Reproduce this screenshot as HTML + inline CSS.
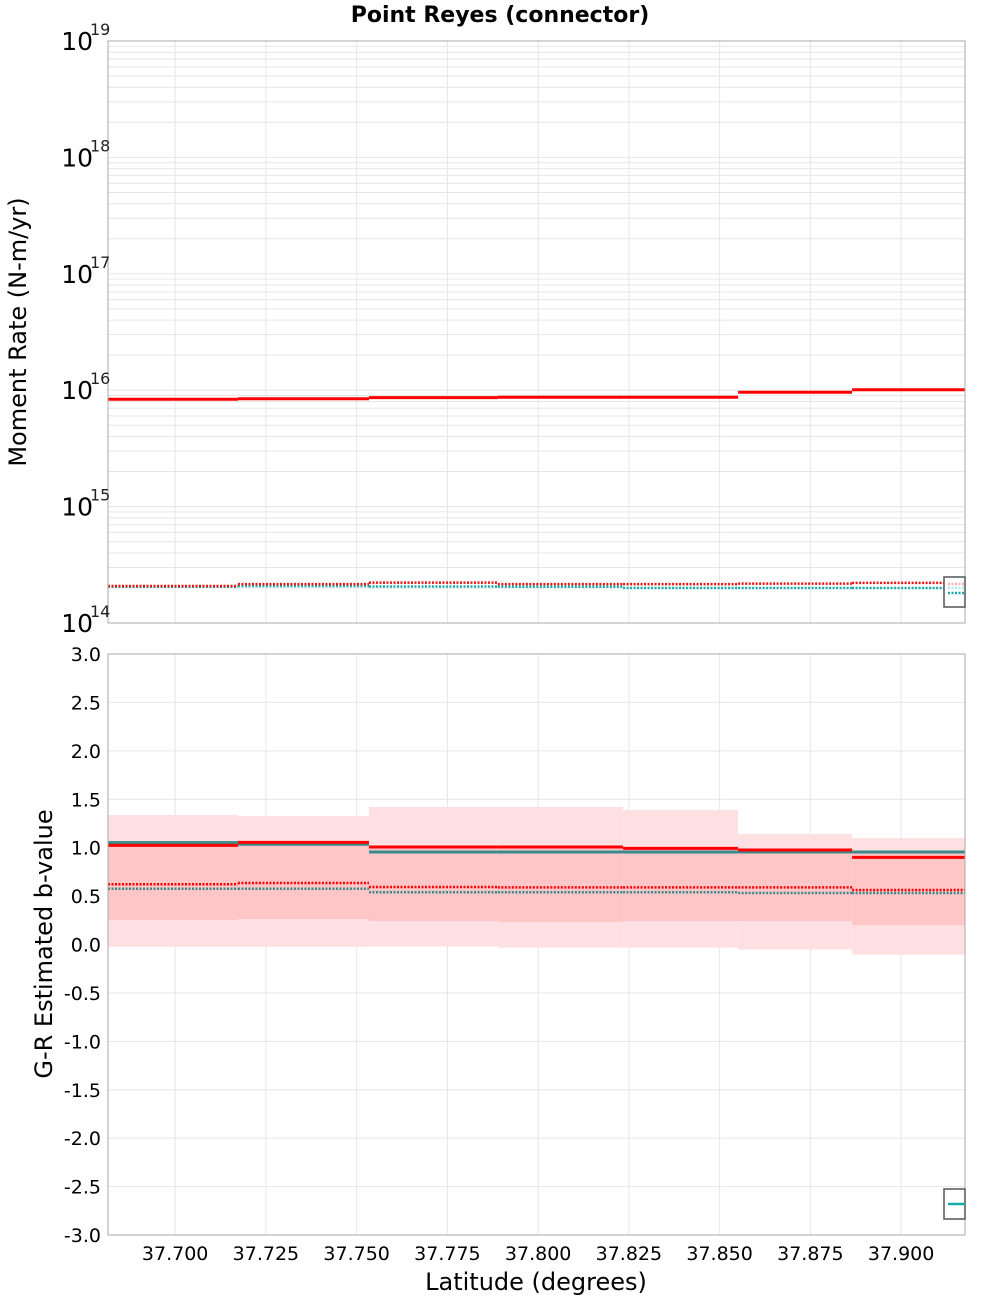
<!DOCTYPE html>
<html><head><meta charset="utf-8"><style>
body{margin:0;background:#fff;}
svg{display:block;font-family:"DejaVu Sans","Liberation Sans",sans-serif;}
</style></head><body>
<svg id="chart" width="1000" height="1300" xmlns="http://www.w3.org/2000/svg"></svg>
<script>
const binEdges=[37.6815,37.7173,37.7534,37.7889,37.8234,37.8551,37.8865,37.9176];
const momentSolid=[8.36e15,8.45e15,8.63e15,8.69e15,8.69e15,9.6e15,1.01e16];
const momentRedDot=[2.08e14,2.16e14,2.22e14,2.16e14,2.16e14,2.18e14,2.21e14];
const momentCyanDot=[2.05e14,2.08e14,2.06e14,2.05e14,2.0e14,2.0e14,2.0e14];
const bOuterTop=[1.337,1.327,1.42,1.42,1.389,1.141,1.10];
const bOuterBot=[-0.023,-0.023,-0.02,-0.033,-0.033,-0.053,-0.105];
const bInnerTop=[1.05,1.06,1.01,1.01,1.0,0.98,0.97];
const bInnerBot=[0.253,0.263,0.243,0.232,0.243,0.243,0.20];
const bRedSolid=[1.024,1.055,1.007,1.007,0.993,0.976,0.90];
const bTealSolid=[1.052,1.035,0.955,0.955,0.955,0.955,0.955];
const bRedDot=[0.622,0.635,0.594,0.59,0.59,0.59,0.563];
const bTealDot=[0.576,0.576,0.539,0.539,0.539,0.532,0.532];
const xTicks=[37.700,37.725,37.750,37.775,37.800,37.825,37.850,37.875,37.900];
const yTicksB=[3.0,2.5,2.0,1.5,1.0,0.5,0.0,-0.5,-1.0,-1.5,-2.0,-2.5,-3.0];
const decades=[14,15,16,17,18,19];

const NS='http://www.w3.org/2000/svg';
const svg=document.getElementById('chart');
const L=108,R=965,T1=41,B1=623,T2=654,B2=1235;
const xMin=37.6815,xMax=37.9176;
const X=v=>L+(v-xMin)/(xMax-xMin)*(R-L);
const Y1=v=>B1-(Math.log10(v)-14)/5*(B1-T1);
const Y2=v=>T2+(3-v)/6*(B2-T2);
function el(tag,attrs,parent){const e=document.createElementNS(NS,tag);for(const k in attrs)e.setAttribute(k,attrs[k]);(parent||svg).appendChild(e);return e;}
function txt(s,attrs){const e=el('text',attrs);e.textContent=s;return e;}

for(const [t,b] of [[T1,B1],[T2,B2]]){
  const r=el('rect',{x:L,y:t,width:R-L,height:b-t,fill:'#fff'});
  
  
}
const g=el('g',{stroke:'#e6e6e6','stroke-width':1});


for(let d=14;d<19;d++)for(let m=1;m<10;m++){const y=Y1(m*Math.pow(10,d));el('line',{x1:L,x2:R,y1:y,y2:y},g);}
xTicks.forEach(v=>{el('line',{x1:X(v),x2:X(v),y1:T1,y2:B1},g);el('line',{x1:X(v),x2:X(v),y1:T2,y2:B2},g);});
yTicksB.forEach(v=>el('line',{x1:L,x2:R,y1:Y2(v),y2:Y2(v)},g));

function steps(arr,Y,attrs,name){
  for(let i=0;i<arr.length;i++){
    const l=el('line',Object.assign({x1:X(binEdges[i]),x2:X(binEdges[i+1]),y1:Y(arr[i]),y2:Y(arr[i])},attrs));
    
    
  }
}
function bands(top,bot,fill,name){
  for(let i=0;i<top.length;i++){
    const r=el('rect',{x:X(binEdges[i]),width:X(binEdges[i+1])-X(binEdges[i]),y:Y2(top[i]),height:Y2(bot[i])-Y2(top[i]),fill:fill});
    
    
  }
}
steps(momentCyanDot,Y1,{stroke:'#1aabab','stroke-width':2.5,'stroke-dasharray':'2 1.5'},'moment-cyan-dotted');
steps(momentRedDot,Y1,{stroke:'#ee1111','stroke-width':2.5,'stroke-dasharray':'2 1.5'},'moment-red-dotted');
steps(momentSolid,Y1,{stroke:'#ff0000','stroke-width':3},'moment-solid');
bands(bOuterTop,bOuterBot,'#ffe0e2','b-outer-band');
bands(bInnerTop,bInnerBot,'#ffc6c8','b-inner-band');
steps(bTealDot,Y2,{stroke:'#3a8a8a','stroke-width':2.5,'stroke-dasharray':'2 1.5'},'b-teal-dotted');
steps(bRedDot,Y2,{stroke:'#ff0000','stroke-width':2.5,'stroke-dasharray':'2 1.5'},'b-red-dotted');
steps(bTealSolid,Y2,{stroke:'#3a8a8a','stroke-width':3},'b-teal-solid');
steps(bRedSolid,Y2,{stroke:'#ff0000','stroke-width':3},'b-red-solid');

for(const [t,b] of [[T1,B1],[T2,B2]]){
  const r=el('rect',{x:L,y:t,width:R-L,height:b-t,fill:'none',stroke:'#aaa','stroke-width':1});
  
  
}
const lg1=el('g',{});


el('rect',{x:944,y:577,width:21,height:30,fill:'#fff',stroke:'#555','stroke-width':1.5},lg1);
el('line',{x1:948,x2:965,y1:584,y2:584,stroke:'#f6b0b0','stroke-width':2.5,'stroke-dasharray':'2 1.5'},lg1);
el('line',{x1:948,x2:965,y1:588,y2:588,stroke:'#aee','stroke-width':2.5,'stroke-dasharray':'2 1.5'},lg1);
el('line',{x1:948,x2:965,y1:593,y2:593,stroke:'#1aabab','stroke-width':2.5,'stroke-dasharray':'2 1.5'},lg1);
const lg2=el('g',{});


el('rect',{x:944,y:1189,width:21,height:30,fill:'#fff',stroke:'#555','stroke-width':1.5},lg2);
el('line',{x1:948,x2:965,y1:1204,y2:1204,stroke:'#1aabab','stroke-width':2.5},lg2);

decades.forEach(d=>{
  const y=Y1(Math.pow(10,d));
  const t=txt('10',{x:93,y:y+9,'font-size':25,'text-anchor':'end',fill:'#000'});
  
  
  const s=txt(String(d),{x:90,y:y-6,'font-size':16,fill:'#222'});
  
  
});
yTicksB.forEach(v=>{
  const t=txt(v.toFixed(1),{x:101,y:Y2(v)+7,'font-size':19,'text-anchor':'end',fill:'#000'});
  
  
});
xTicks.forEach(v=>{
  const t=txt(v.toFixed(3),{x:X(v),y:1260,'font-size':19,'text-anchor':'middle',fill:'#000'});
  
  
});
let t=txt('Point Reyes (connector)',{x:500,y:22,'font-size':22,'font-weight':'bold','text-anchor':'middle'});

t=txt('Latitude (degrees)',{x:536,y:1290,'font-size':24,'text-anchor':'middle'});

t=txt('Moment Rate (N-m/yr)',{x:0,y:0,'font-size':24,'text-anchor':'middle',transform:'translate(26,332) rotate(-90)'});

t=txt('G-R Estimated b-value',{x:0,y:0,'font-size':24,'text-anchor':'middle',transform:'translate(52,944) rotate(-90)'});

</script>
</body></html>
